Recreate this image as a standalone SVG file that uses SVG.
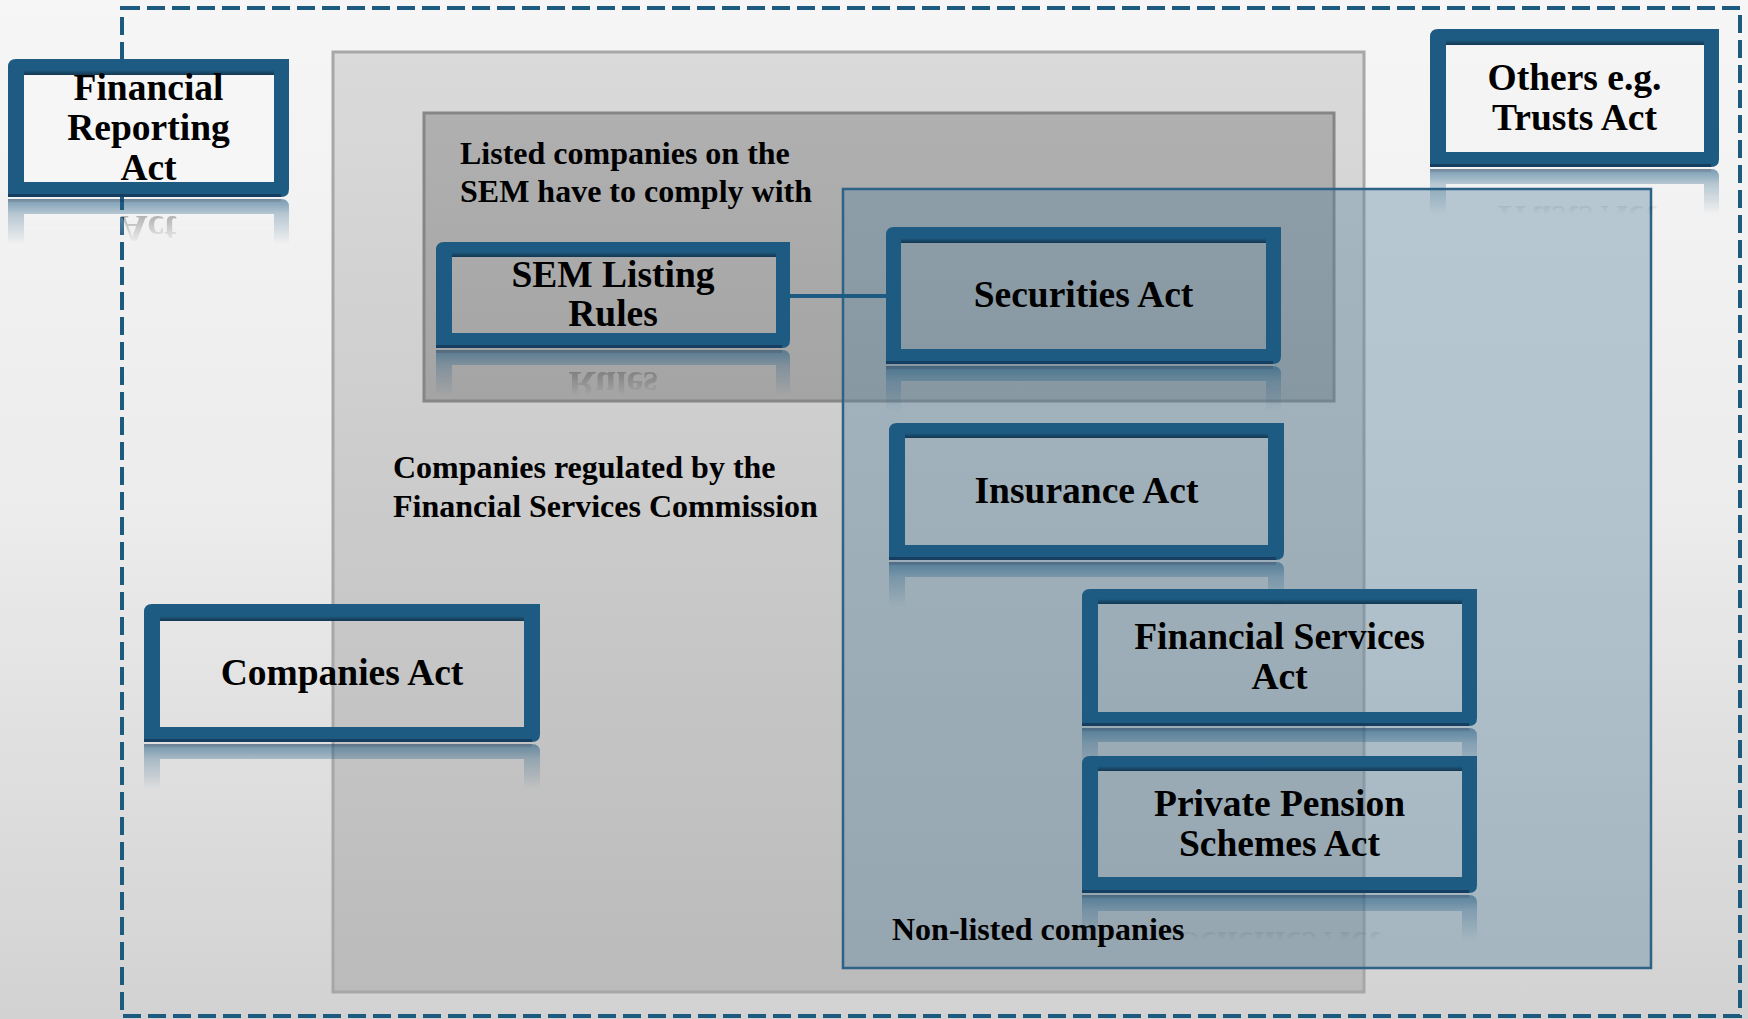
<svg xmlns="http://www.w3.org/2000/svg" xmlns:xlink="http://www.w3.org/1999/xlink" width="1748" height="1019" viewBox="0 0 1748 1019">
<defs>
  <style>
    .frame{fill:#1e5b82;fill-rule:evenodd}
    .bevIn{fill:url(#bevGrad)}
    .bevOut{fill:#14395a;opacity:.85}
    .lbl{font-family:"Liberation Serif","Times New Roman",serif;font-weight:bold;font-size:37.5px;text-anchor:middle;fill:#000}
    .note{font-family:"Liberation Serif","Times New Roman",serif;font-weight:bold;font-size:32px;fill:#000}
  </style>
  <linearGradient id="bgGrad" x1="0" y1="0" x2="0" y2="1">
    <stop offset="0" stop-color="#f6f6f6"/>
    <stop offset="0.5" stop-color="#ececec"/>
    <stop offset="1" stop-color="#d2d2d2"/>
  </linearGradient>
  <linearGradient id="grayGrad" x1="0" y1="0" x2="0" y2="1">
    <stop offset="0" stop-color="#dadada"/>
    <stop offset="1" stop-color="#bbbbbb"/>
  </linearGradient>
  <linearGradient id="listGrad" x1="0" y1="0" x2="0" y2="1">
    <stop offset="0" stop-color="#b0b0b0"/>
    <stop offset="1" stop-color="#a4a4a4"/>
  </linearGradient>
  <linearGradient id="bevGrad" x1="0" y1="0" x2="0" y2="1">
    <stop offset="0" stop-color="#12324a" stop-opacity="0"/>
    <stop offset="1" stop-color="#12324a" stop-opacity="0.9"/>
  </linearGradient>
  <linearGradient id="reflGrad" gradientUnits="userSpaceOnUse" x1="0" y1="0" x2="0" y2="46">
    <stop offset="0" stop-color="#fff" stop-opacity="0.6"/>
    <stop offset="0.35" stop-color="#fff" stop-opacity="0.28"/>
    <stop offset="1" stop-color="#fff" stop-opacity="0"/>
  </linearGradient>
  <mask id="reflMask" maskUnits="userSpaceOnUse" maskContentUnits="userSpaceOnUse" x="0" y="0" width="1748" height="60">
    <rect x="0" y="0" width="1748" height="60" fill="url(#reflGrad)"/>
  </mask>
</defs>

<!-- background -->
<rect x="0" y="0" width="1748" height="1019" fill="url(#bgGrad)"/>

<!-- containers -->
<g id="containers">
  <rect id="fsc-area" x="333" y="52" width="1031" height="940" fill="url(#grayGrad)" stroke="#a7a7a7" stroke-width="3"/>
  <rect id="listed-area" x="424" y="113" width="910" height="288" fill="url(#listGrad)" stroke="#868686" stroke-width="3"/>
  <rect id="nonlisted-area" x="843" y="189" width="808" height="779" fill="#5f86a0" fill-opacity="0.4" stroke="#2f6287" stroke-width="2.5"/>
  <rect id="outer-dashed" x="122" y="8" width="1618" height="1008" fill="none" stroke="#1d5a80" stroke-width="4" stroke-dasharray="18 7"/>
</g>

<!-- container labels -->
<g id="labels">
  <text class="note" x="460" y="164">Listed companies on the</text>
  <text class="note" x="460" y="202">SEM have to comply with</text>
  <text class="note" x="393" y="478">Companies regulated by the</text>
  <text class="note" x="393" y="517">Financial Services Commission</text>
  <text class="note" x="892" y="940">Non-listed companies</text>
</g>

<!-- connectors -->
<g id="connectors">
  <line x1="790" y1="296" x2="886" y2="296" stroke="#1e5b82" stroke-width="4"/>
</g>

<!-- nodes -->
<g id="node-fra">
  <g id="fra-body">
    <rect x="24" y="75" width="250" height="107" fill="#f6f6f6"/>
    <path class="frame" d="M16,59 H289 V189 Q289,197 281,197 H8 V67 Q8,59 16,59 Z M24,75 V182 H274 V75 Z"/>
    <rect class="bevIn" x="24" y="70" width="250" height="5"/>
    <rect class="bevOut" x="8" y="194" width="273" height="3"/>
    <text class="lbl" x="148.5" y="100">Financial</text>
    <text class="lbl" x="148.5" y="140">Reporting</text>
    <text class="lbl" x="148.5" y="180">Act</text>
  </g>
  <g transform="translate(0,198)" mask="url(#reflMask)"><use xlink:href="#fra-body" href="#fra-body" transform="scale(1,-1) translate(0,-198)"/></g>
</g>

<g id="node-others">
  <g id="others-body">
    <path class="frame" d="M1438,29 H1719 V159 Q1719,167 1711,167 H1430 V37 Q1430,29 1438,29 Z M1446,45 V152 H1704 V45 Z"/>
    <rect class="bevIn" x="1446" y="40" width="258" height="5"/>
    <rect class="bevOut" x="1430" y="164" width="281" height="3"/>
    <text class="lbl" x="1574.5" y="90">Others e.g.</text>
    <text class="lbl" x="1574.5" y="130">Trusts Act</text>
  </g>
  <g transform="translate(0,168)" mask="url(#reflMask)"><use xlink:href="#others-body" href="#others-body" transform="scale(1,-1) translate(0,-168)"/></g>
</g>

<g id="node-sem">
  <g id="sem-body">
    <path class="frame" d="M444,242 H790 V340 Q790,348 782,348 H436 V250 Q436,242 444,242 Z M452,257 V333 H776 V257 Z"/>
    <rect class="bevIn" x="452" y="252" width="324" height="5"/>
    <rect class="bevOut" x="436" y="345" width="346" height="3"/>
    <text class="lbl" x="613" y="287">SEM Listing</text>
    <text class="lbl" x="613" y="326">Rules</text>
  </g>
  <g transform="translate(0,349)" mask="url(#reflMask)"><use xlink:href="#sem-body" href="#sem-body" transform="scale(1,-1) translate(0,-349)"/></g>
</g>

<g id="node-securities">
  <g id="securities-body">
    <path class="frame" d="M894,227 H1281 V356 Q1281,364 1273,364 H886 V235 Q886,227 894,227 Z M901,243 V349 H1266 V243 Z"/>
    <rect class="bevIn" x="901" y="238" width="365" height="5"/>
    <rect class="bevOut" x="886" y="361" width="387" height="3"/>
    <text class="lbl" x="1083.5" y="307">Securities Act</text>
  </g>
  <g transform="translate(0,365)" mask="url(#reflMask)"><use xlink:href="#securities-body" href="#securities-body" transform="scale(1,-1) translate(0,-365)"/></g>
</g>

<g id="node-insurance">
  <g id="insurance-body">
    <path class="frame" d="M897,423 H1284 V552 Q1284,560 1276,560 H889 V431 Q889,423 897,423 Z M905,438 V545 H1268 V438 Z"/>
    <rect class="bevIn" x="905" y="433" width="363" height="5"/>
    <rect class="bevOut" x="889" y="557" width="387" height="3"/>
    <text class="lbl" x="1086.5" y="503">Insurance Act</text>
  </g>
  <g transform="translate(0,561)" mask="url(#reflMask)"><use xlink:href="#insurance-body" href="#insurance-body" transform="scale(1,-1) translate(0,-561)"/></g>
</g>

<g id="node-companies">
  <g id="companies-body">
    <path class="frame" d="M152,604 H540 V734 Q540,742 532,742 H144 V612 Q144,604 152,604 Z M160,621 V727 H524 V621 Z"/>
    <rect class="bevIn" x="160" y="616" width="364" height="5"/>
    <rect class="bevOut" x="144" y="739" width="388" height="3"/>
    <text class="lbl" x="342" y="685">Companies Act</text>
  </g>
  <g transform="translate(0,743)" mask="url(#reflMask)"><use xlink:href="#companies-body" href="#companies-body" transform="scale(1,-1) translate(0,-743)"/></g>
</g>

<g id="node-fsa">
  <g id="fsa-body">
    <path class="frame" d="M1090,589 H1477 V718 Q1477,726 1469,726 H1082 V597 Q1082,589 1090,589 Z M1098,604 V712 H1462 V604 Z"/>
    <rect class="bevIn" x="1098" y="599" width="364" height="5"/>
    <rect class="bevOut" x="1082" y="723" width="387" height="3"/>
    <text class="lbl" x="1279.5" y="649">Financial Services</text>
    <text class="lbl" x="1279.5" y="689">Act</text>
  </g>
  <g transform="translate(0,727)" mask="url(#reflMask)"><use xlink:href="#fsa-body" href="#fsa-body" transform="scale(1,-1) translate(0,-727)"/></g>
</g>

<g id="node-ppsa">
  <g id="ppsa-body">
    <path class="frame" d="M1090,756 H1477 V885 Q1477,893 1469,893 H1082 V764 Q1082,756 1090,756 Z M1098,771 V877 H1462 V771 Z"/>
    <rect class="bevIn" x="1098" y="766" width="364" height="5"/>
    <rect class="bevOut" x="1082" y="890" width="387" height="3"/>
    <text class="lbl" x="1279.5" y="816">Private Pension</text>
    <text class="lbl" x="1279.5" y="856">Schemes Act</text>
  </g>
  <g transform="translate(0,894)" mask="url(#reflMask)"><use xlink:href="#ppsa-body" href="#ppsa-body" transform="scale(1,-1) translate(0,-894)"/></g>
</g>
</svg>
